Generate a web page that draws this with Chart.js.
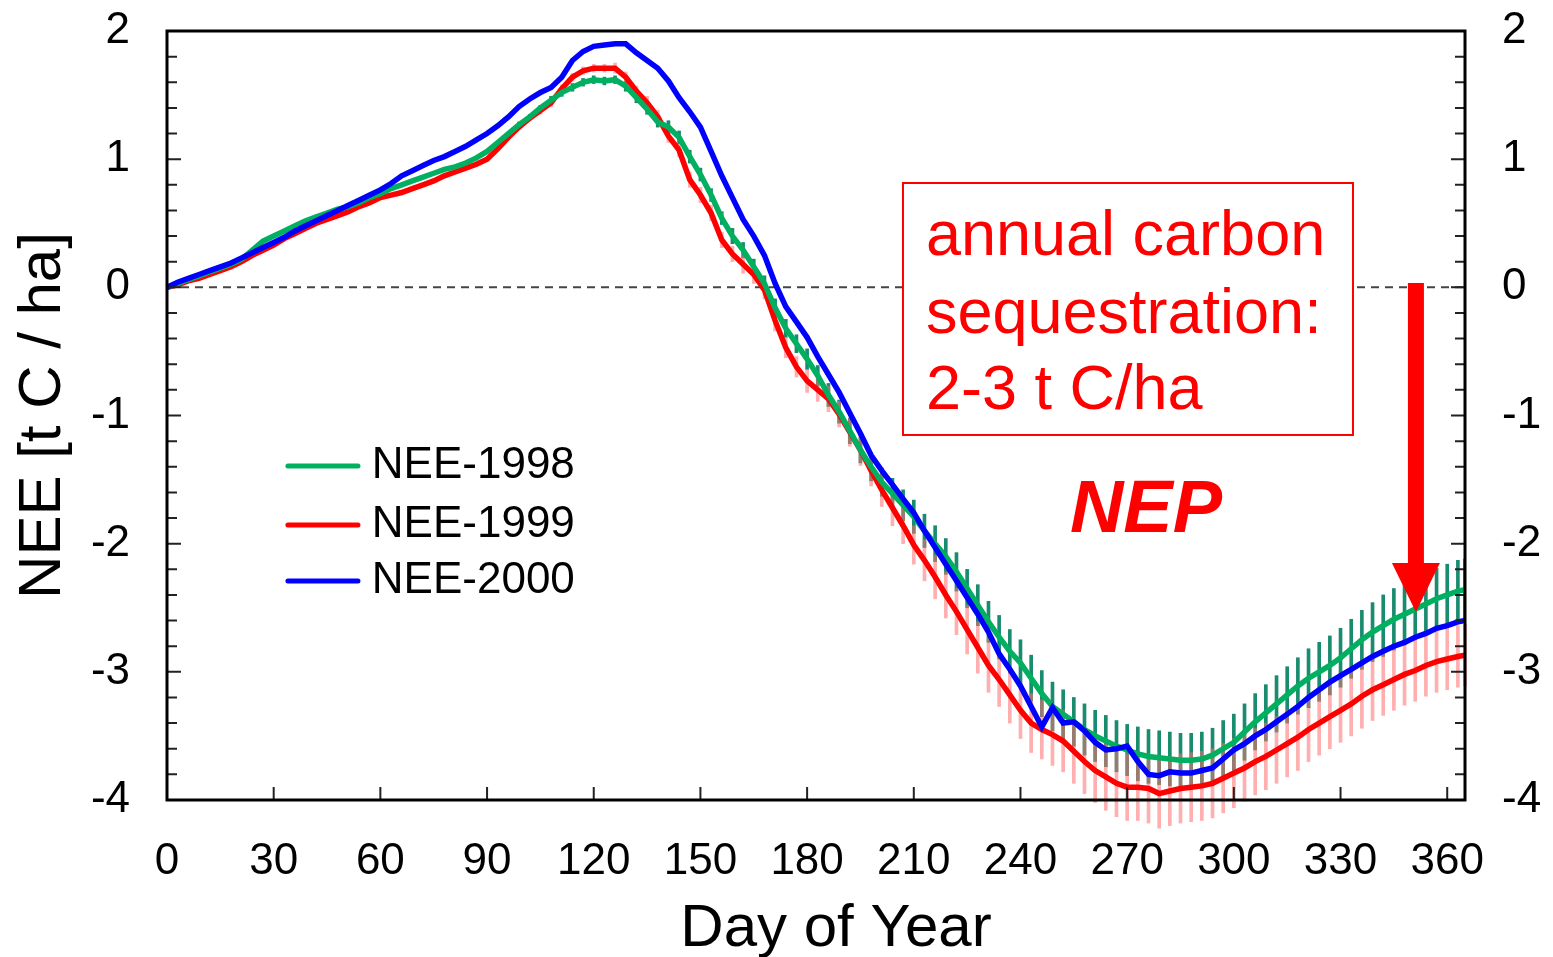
<!DOCTYPE html>
<html><head><meta charset="utf-8">
<script src="https://cdn.jsdelivr.net/npm/chart.js@4.4.0/dist/chart.umd.min.js"></script>
<style>html,body{margin:0;padding:0;background:#fff;overflow:hidden}</style>
</head><body>
<canvas id="c" width="1553" height="957"></canvas>
<script>
// ---------- DATA ----------
const days = [0,3,6,9,12,15,18,21,24,27,
  30,33,36,39,42,45,48,51,54,57,
  60,63,66,69,72,75,78,81,84,87,
  90,93,96,99,102,105,108,111,114,117,
  120,123,126,129,132,135,138,141,144,147,
  150,153,156,159,162,165,168,171,174,177,
  180,183,186,189,192,195,198,201,204,207,
  210,213,216,219,222,225,228,231,234,237,
  240,243,246,249,252,255,258,261,264,267,
  270,273,276,279,282,285,288,291,294,297,
  300,303,306,309,312,315,318,321,324,327,
  330,333,336,339,342,345,348,351,354,357,
  360,363,365];

const nee1998 = [0,0.03,0.06,0.09,0.12,0.15,0.18,0.22,0.29,0.36,
  0.40,0.44,0.48,0.52,0.55,0.58,0.61,0.63,0.66,0.70,
  0.73,0.77,0.80,0.83,0.86,0.89,0.92,0.94,0.97,1.01,
  1.06,1.13,1.20,1.27,1.33,1.40,1.46,1.52,1.56,1.60,
  1.62,1.61,1.62,1.57,1.48,1.39,1.29,1.25,1.17,1.02,
  0.88,0.72,0.54,0.40,0.29,0.16,0.03,-0.16,-0.32,-0.44,
  -0.56,-0.69,-0.84,-0.97,-1.12,-1.27,-1.40,-1.52,-1.61,-1.70,
  -1.79,-1.90,-2.00,-2.10,-2.22,-2.35,-2.48,-2.61,-2.73,-2.84,
  -2.93,-3.05,-3.17,-3.27,-3.33,-3.39,-3.45,-3.50,-3.54,-3.58,
  -3.61,-3.64,-3.66,-3.67,-3.68,-3.69,-3.69,-3.68,-3.65,-3.60,
  -3.55,-3.47,-3.39,-3.32,-3.25,-3.18,-3.11,-3.05,-3.00,-2.95,
  -2.89,-2.82,-2.75,-2.69,-2.64,-2.59,-2.55,-2.51,-2.47,-2.43,
  -2.40,-2.37,-2.36];

const nee1999 = [0,0.02,0.05,0.07,0.10,0.13,0.16,0.20,0.25,0.29,
  0.33,0.38,0.42,0.46,0.50,0.53,0.56,0.59,0.63,0.66,
  0.70,0.72,0.74,0.77,0.80,0.83,0.87,0.90,0.93,0.96,
  1.00,1.08,1.17,1.25,1.32,1.38,1.44,1.55,1.64,1.69,
  1.71,1.71,1.71,1.64,1.53,1.44,1.33,1.18,1.07,0.84,
  0.72,0.58,0.37,0.26,0.18,0.10,-0.02,-0.26,-0.47,-0.62,
  -0.73,-0.80,-0.87,-0.99,-1.13,-1.27,-1.43,-1.58,-1.72,-1.86,
  -2.01,-2.13,-2.26,-2.40,-2.53,-2.67,-2.81,-2.95,-3.06,-3.18,
  -3.30,-3.40,-3.45,-3.49,-3.54,-3.62,-3.70,-3.77,-3.82,-3.87,
  -3.90,-3.90,-3.91,-3.95,-3.93,-3.91,-3.90,-3.89,-3.87,-3.83,
  -3.79,-3.75,-3.70,-3.66,-3.61,-3.56,-3.51,-3.45,-3.40,-3.35,
  -3.30,-3.25,-3.19,-3.14,-3.10,-3.06,-3.02,-2.99,-2.95,-2.92,
  -2.90,-2.88,-2.87];

const nee2000 = [0,0.04,0.07,0.10,0.13,0.16,0.19,0.23,0.27,0.31,
  0.35,0.39,0.44,0.48,0.52,0.56,0.60,0.64,0.68,0.72,
  0.76,0.81,0.87,0.91,0.95,0.99,1.02,1.06,1.10,1.15,
  1.20,1.26,1.33,1.41,1.47,1.52,1.56,1.64,1.77,1.84,
  1.88,1.89,1.90,1.90,1.83,1.77,1.71,1.61,1.48,1.37,
  1.25,1.06,0.87,0.70,0.53,0.40,0.25,0.03,-0.15,-0.27,
  -0.39,-0.54,-0.68,-0.82,-0.98,-1.14,-1.31,-1.43,-1.54,-1.65,
  -1.76,-1.90,-2.03,-2.16,-2.29,-2.42,-2.55,-2.69,-2.86,-2.98,
  -3.11,-3.27,-3.43,-3.28,-3.40,-3.39,-3.46,-3.55,-3.61,-3.60,
  -3.58,-3.70,-3.80,-3.81,-3.78,-3.79,-3.79,-3.77,-3.75,-3.68,
  -3.61,-3.56,-3.50,-3.45,-3.39,-3.33,-3.27,-3.20,-3.14,-3.08,
  -3.03,-2.98,-2.93,-2.88,-2.84,-2.80,-2.77,-2.73,-2.70,-2.66,
  -2.64,-2.61,-2.60];

// error half-widths (uncertainty bars)
const err1998 = [0,0,0,0,0,0,0,0,0,0,
  0,0,0,0,0,0,0,0,0,0,
  0,0,0,0,0,0,0,0,0,0,
  0,0,0,0.02,0.02,0.02,0.03,0.03,0.03,0.03,
  0.03,0.03,0.03,0.04,0.04,0.04,0.04,0.05,0.05,0.05,
  0.05,0.05,0.05,0.06,0.06,0.06,0.06,0.07,0.07,0.07,
  0.08,0.08,0.09,0.09,0.10,0.10,0.11,0.11,0.12,0.12,
  0.13,0.13,0.14,0.14,0.15,0.15,0.16,0.16,0.17,0.17,
  0.18,0.18,0.18,0.19,0.19,0.19,0.20,0.20,0.20,0.20,
  0.20,0.21,0.21,0.21,0.21,0.21,0.21,0.21,0.21,0.22,
  0.22,0.22,0.22,0.22,0.22,0.22,0.22,0.23,0.23,0.23,
  0.23,0.23,0.23,0.23,0.24,0.24,0.24,0.24,0.24,0.24,
  0.24,0.24,0.24];

const err1999 = [0,0,0,0,0,0,0,0,0,0,
  0,0,0,0,0,0,0,0,0,0,
  0,0,0,0,0,0,0,0,0,0,
  0,0,0,0.02,0.02,0.03,0.03,0.03,0.03,0.03,
  0.03,0.03,0.04,0.04,0.04,0.05,0.05,0.05,0.05,0.06,
  0.06,0.06,0.06,0.06,0.07,0.07,0.07,0.08,0.08,0.08,
  0.09,0.09,0.10,0.10,0.11,0.12,0.12,0.13,0.14,0.14,
  0.15,0.16,0.17,0.18,0.18,0.19,0.20,0.21,0.21,0.22,
  0.22,0.23,0.23,0.24,0.24,0.25,0.25,0.25,0.26,0.26,
  0.26,0.26,0.27,0.27,0.27,0.27,0.27,0.27,0.27,0.27,
  0.27,0.26,0.26,0.26,0.26,0.26,0.26,0.25,0.25,0.25,
  0.25,0.25,0.25,0.24,0.24,0.24,0.24,0.24,0.24,0.24,
  0.24,0.24,0.24];

const xTicks = [0,30,60,90,120,150,180,210,240,270,300,330,360];
const yTicks = [-4,-3,-2,-1,0,1,2];
const seriesLabels = ['NEE-1998','NEE-1999','NEE-2000'];
const xTitle = 'Day of Year';
const yTitle = 'NEE [t C / ha]';
const noteLines = ['annual carbon','sequestration:','2-3 t C/ha'];
const noteBig = 'NEP';

// ---------- STYLE ----------
const FONT = "'Liberation Sans', Arial, Helvetica, sans-serif";
Chart.defaults.font.family = FONT;
Chart.defaults.color = '#000';
const C98 = '#00b060', C99 = '#ff0000', C00 = '#0000ff';

const pts = v => days.map((d,i)=>({x:d, y:v[i]}));
const bars = (v,e) => days.map((d,i)=>({x:d, y:[v[i]-e[i], v[i]+e[i]]}));

const decor = {
  id: 'decor',
  beforeDatasetsDraw(chart) {
    const {ctx, chartArea:a, scales:{y}} = chart;
    const y0 = y.getPixelForValue(0);
    ctx.save();
    ctx.strokeStyle = '#444'; ctx.lineWidth = 2; ctx.setLineDash([8,6]);
    ctx.beginPath(); ctx.moveTo(a.left, y0); ctx.lineTo(a.right, y0); ctx.stroke();
    ctx.restore();
  },
  afterDatasetsDraw(chart) {
    const {ctx, chartArea:a, scales:{x, y}} = chart;
    const X = v => x.getPixelForValue(v), Y = v => y.getPixelForValue(v);
    ctx.save();
    // tick marks (inward)
    ctx.strokeStyle = '#222'; ctx.lineWidth = 2; ctx.setLineDash([]);
    ctx.beginPath();
    const nMinor = Math.round((y.max - y.min) / 0.2);
    for (let k = 0; k <= nMinor; k++) {
      const p = Y(y.min + k * 0.2);
      const len = (k % 5 === 0) ? 14 : 10;
      ctx.moveTo(a.left, p); ctx.lineTo(a.left + len, p);
      ctx.moveTo(a.right, p); ctx.lineTo(a.right - len, p);
    }
    x.ticks.forEach(t => {
      const p = X(t.value);
      if (p > a.left + 2 && p < a.right - 2) { ctx.moveTo(p, a.bottom); ctx.lineTo(p, a.bottom - 13); }
    });
    ctx.stroke();
    // frame
    ctx.strokeStyle = '#000'; ctx.lineWidth = 3;
    ctx.strokeRect(a.left, a.top, a.right - a.left, a.bottom - a.top);

    // x axis title (slightly right of centre, as in the original)
    ctx.fillStyle = '#000'; ctx.font = '60px ' + FONT;
    ctx.textAlign = 'center'; ctx.textBaseline = 'alphabetic';
    ctx.fillText(xTitle, (a.left + a.right) / 2 + 20, 946);

    // annotation box
    const bx1 = X(206.96), bx2 = X(333.5), by1 = Y(0.814), by2 = Y(-1.152);
    ctx.fillStyle = '#fff'; ctx.fillRect(bx1, by1, bx2 - bx1, by2 - by1);
    ctx.strokeStyle = '#ff0000'; ctx.lineWidth = 2;
    ctx.strokeRect(bx1, by1, bx2 - bx1, by2 - by1);
    ctx.fillStyle = '#ff0000';
    ctx.font = '63px ' + FONT; ctx.textAlign = 'left'; ctx.textBaseline = 'alphabetic';
    const tx = X(213.4);
    [0.252, -0.357, -0.950].forEach((v,i) => ctx.fillText(noteLines[i], tx, Y(v)));
    ctx.font = 'italic bold 74px ' + FONT; ctx.textAlign = 'center';
    ctx.fillText(noteBig, X(275.3), Y(-1.909));

    // arrow
    const ax = X(351.2), aTop = Y(0.034), aHead = Y(-2.151), aTip = Y(-2.533);
    ctx.fillRect(ax - 8, aTop, 16, aHead - aTop + 1);
    ctx.beginPath(); ctx.moveTo(ax - 24, aHead); ctx.lineTo(ax + 24, aHead); ctx.lineTo(ax, aTip); ctx.closePath(); ctx.fill();

    // legend (in series order)
    const rows = [-1.394, -1.854, -2.291];
    ctx.font = '44px ' + FONT; ctx.textAlign = 'left'; ctx.textBaseline = 'middle';
    ctx.lineCap = 'round';
    seriesLabels.forEach((lab,i) => {
      const d = chart.data.datasets.find(ds => ds.type === 'line' && ds.label === lab);
      const py = Y(rows[i]);
      ctx.strokeStyle = d.borderColor; ctx.lineWidth = 5;
      ctx.beginPath(); ctx.moveTo(X(34.0), py); ctx.lineTo(X(53.7), py); ctx.stroke();
      ctx.fillStyle = '#000';
      ctx.fillText(lab, X(57.6), py);
    });
    ctx.restore();
  }
};

const tickCfg = {font:{size:44}, color:'#000'};
const noPadY = s => { s.paddingTop = 0; s.paddingBottom = 0; };

new Chart(document.getElementById('c'), {
  type: 'line',
  data: {
    datasets: [
      {type:'line', label:seriesLabels[2], data:pts(nee2000), borderColor:C00, backgroundColor:C00, borderWidth:5.5, pointRadius:0, tension:0, order:0},
      {type:'line', label:seriesLabels[0], data:pts(nee1998), borderColor:C98, backgroundColor:C98, borderWidth:5.5, pointRadius:0, tension:0, order:1},
      {type:'line', label:seriesLabels[1], data:pts(nee1999), borderColor:C99, backgroundColor:C99, borderWidth:5.5, pointRadius:0, tension:0, order:2},
      {type:'bar', label:'err-1999', data:bars(nee1999, err1999), backgroundColor:'rgba(255,110,110,0.55)', borderWidth:0, grouped:false, barThickness:3, maxBarThickness:3, order:3, clip:false},
      {type:'bar', label:'err-1998', data:bars(nee1998, err1998), backgroundColor:'rgba(0,128,96,0.9)', borderWidth:0, grouped:false, barThickness:3, maxBarThickness:3, order:4}
    ]
  },
  options: {
    responsive:false, animation:false, devicePixelRatio:1,
    events: [],
    layout:{padding:{top:31, left:0, right:0, bottom:0}},
    plugins:{legend:{display:false}, tooltip:{enabled:false}},
    scales:{
      x:{type:'linear', min:0, max:365, offset:false,
        grid:{display:false, drawTicks:false}, border:{display:false},
        afterBuildTicks: s => { s.ticks = xTicks.map(v => ({value:v})); },
        ticks:Object.assign({padding:35, maxRotation:0, autoSkip:false}, tickCfg),
        title:{display:false, text:xTitle},
        afterFit: s => { s.height = 157; s.paddingLeft = 0; s.paddingRight = 0; }
      },
      y:{type:'linear', position:'left', min:-4, max:2,
        grid:{display:false, drawTicks:false}, border:{display:false},
        afterBuildTicks: s => { s.ticks = yTicks.map(v => ({value:v})); },
        ticks:Object.assign({padding:37}, tickCfg),
        title:{display:true, text:yTitle, color:'#000', font:{size:60, lineHeight:1}, padding:{top:13, bottom:0}},
        afterFit: s => { s.width = 167; noPadY(s); }
      },
      yR:{type:'linear', position:'right', min:-4, max:2,
        grid:{display:false, drawTicks:false}, border:{display:false},
        afterBuildTicks: s => { s.ticks = yTicks.map(v => ({value:v})); },
        ticks:Object.assign({padding:37}, tickCfg),
        afterFit: s => { s.width = 88; noPadY(s); }
      }
    }
  },
  plugins:[decor]
});
</script>
</body></html>
